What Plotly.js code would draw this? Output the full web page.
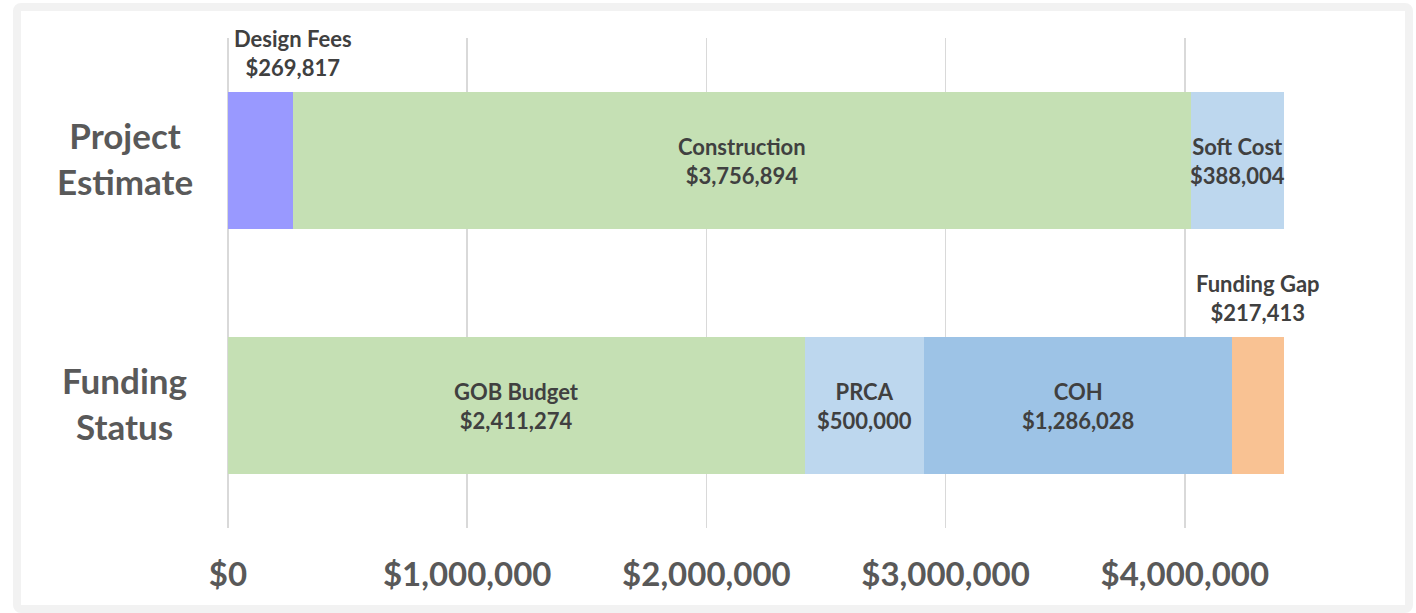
<!DOCTYPE html>
<html>
<head>
<meta charset="utf-8">
<script src="https://cdn.plot.ly/plotly-3.0.1.min.js"></script>
<style>
  html, body { margin: 0; padding: 0; background: #ffffff; }
  #wrap { position: relative; width: 1416px; height: 613px; overflow: hidden; }
  #chart { position: absolute; left: 0; top: 0; width: 1416px; height: 613px; }
  #frame { position: absolute; left: 13px; top: 3px; width: 1384px; height: 594px;
           border: 8px solid #f2f2f2; border-radius: 8px; pointer-events: none; }
</style>
</head>
<body>
<div id="wrap">
  <div id="chart"></div>
  <div id="frame"></div>
</div>
<script>
// ---- data ----
const categories = ['Funding Status', 'Project Estimate'];
const categoryLabels = ['Funding<br>Status', 'Project<br>Estimate'];

const estimateNames  = ['Design Fees', 'Construction', 'Soft Cost'];
const estimateValues = [269817, 3756894, 388004];
const estimateColors = ['#9999FF', '#C5E0B4', '#BDD7EE'];

const fundingNames  = ['GOB Budget', 'PRCA', 'COH', 'Funding Gap'];
const fundingValues = [2411274, 500000, 1286028, 217413];
const fundingColors = ['#C5E0B4', '#BDD7EE', '#9DC3E6', '#F9C293'];

const tickValues = [0, 1000000, 2000000, 3000000, 4000000];
const tickLabels = ['$0', '$1,000,000', '$2,000,000', '$3,000,000', '$4,000,000'];

const outsideLabels = ['Design Fees', 'Funding Gap'];

// ---- build ----
const fmt = v => '$' + v.toLocaleString('en-US');
const FONT = 'Lato, "Open Sans", sans-serif';
const traces = [];
const annotations = [];

function addGroup(names, values, colors, catIndex) {
  let start = 0;
  names.forEach((n, i) => {
    const v = values[i];
    traces.push({
      type: 'bar', orientation: 'h',
      x: [v], y: [categories[catIndex]],
      name: n,
      marker: { color: colors[i], line: { width: 0 } },
      hoverinfo: 'name+x',
      showlegend: false
    });
    const label = '<b>' + n + '<br>' + fmt(v) + '</b>';
    if (outsideLabels.indexOf(n) >= 0) {
      const isFirst = (i === 0);
      annotations.push({
        xref: 'x', yref: 'y',
        x: isFirst ? start + v : start + v / 2,
        y: catIndex,
        yshift: 78, yanchor: 'bottom', xanchor: 'center',
        text: label, showarrow: false, align: 'center',
        font: { family: FONT, size: 22, color: '#404040' }
      });
    } else {
      annotations.push({
        xref: 'x', yref: 'y',
        x: start + v / 2, y: catIndex,
        xanchor: 'center', yanchor: 'middle',
        text: label, showarrow: false, align: 'center',
        font: { family: FONT, size: 22, color: '#404040' }
      });
    }
    start += v;
  });
  return start;
}

const totalE = addGroup(estimateNames, estimateValues, estimateColors, 1);
const totalF = addGroup(fundingNames, fundingValues, fundingColors, 0);
const xmax = Math.max(totalE, totalF);

categoryLabels.forEach((t, i) => {
  annotations.push({
    xref: 'paper', yref: 'y',
    x: -0.098, y: i, yshift: 3, xanchor: 'center', yanchor: 'middle',
    text: '<b>' + t + '</b>', showarrow: false, align: 'center',
    font: { family: FONT, size: 35, color: '#595959' }
  });
});

const layout = {
  width: 1416, height: 613,
  margin: { l: 228, r: 132, t: 38, b: 85, pad: 0 },
  paper_bgcolor: '#ffffff', plot_bgcolor: '#ffffff',
  barmode: 'stack', bargap: 0.444,
  showlegend: false,
  xaxis: {
    range: [0, xmax],
    tickvals: tickValues, ticktext: tickLabels,
    showgrid: true, gridcolor: '#d9d9d9', gridwidth: 1.5,
    zeroline: true, zerolinecolor: '#d9d9d9', zerolinewidth: 1.5,
    showline: false, ticks: '',
    ticklabelstandoff: 24,
    tickfont: { family: FONT, size: 33, color: '#595959', weight: 'bold' },
    fixedrange: true
  },
  yaxis: {
    type: 'category',
    categoryorder: 'array', categoryarray: categories,
    range: [-0.5, 1.5],
    showticklabels: false, showgrid: false, zeroline: false, ticks: '',
    fixedrange: true
  },
  annotations: annotations
};

Plotly.newPlot('chart', traces, layout, { displayModeBar: false, staticPlot: true });
</script>
</body>
</html>
